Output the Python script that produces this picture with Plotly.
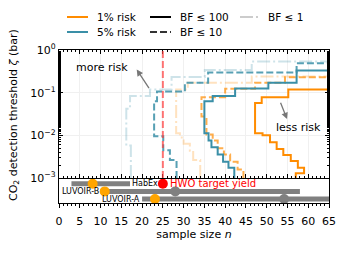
import plotly.graph_objects as go

# ---------------- data ----------------
n_1pct_bf100 = [57, 59, 57.5, 55.8, 54, 52.4, 50.8, 49, 47.2, 48.8, 55.2, 65]
z_1pct_bf100 = [0.001, 0.00129, 0.00174, 0.00251, 0.00347, 0.00479, 0.00692, 0.0100, 0.0112, 0.0575, 0.0776, 0.118]

n_5pct_bf100 = [42.2, 40.8, 39.5, 38.2, 36.7, 36.0, 35.0, 37.0, 42.4, 50.4, 57.2, 65]
z_5pct_bf100 = [0.001, 0.00174, 0.0024, 0.00355, 0.00525, 0.00759, 0.0112, 0.0631, 0.0832, 0.126, 0.170, 0.331]

n_1pct_bf10 = [44.4, 43.0, 41.2, 39.7, 38.2, 37.0, 35.5, 34.3, 40.0, 47.2, 54.4, 65]
z_1pct_bf10 = [0.001, 0.00158, 0.0024, 0.00355, 0.00501, 0.00759, 0.0105, 0.0275, 0.0776, 0.123, 0.170, 0.229]

n_5pct_bf10 = [28.3, 26.7, 25.1, 22.9, 23.6, 30.3, 35.9, 57.2, 65]
z_5pct_bf10 = [0.001, 0.00263, 0.00447, 0.00955, 0.0631, 0.107, 0.170, 0.295, 0.49]

n_1pct_bf1 = [34.0, 32.3, 31.5, 30.0, 29.1, 28.2, 31.0, 46.4, 65]
z_1pct_bf1 = [0.001, 0.00263, 0.00437, 0.00631, 0.00891, 0.0112, 0.118, 0.170, 0.24]

n_5pct_bf1 = [17.3, 16.2, 17.1, 21.9, 27.1, 35.1, 46.4, 65]
z_5pct_bf1 = [0.001, 0.00575, 0.0417, 0.0832, 0.118, 0.234, 0.339, 0.54]

missions = ["HabEx", "LUVOIR-B", "LUVOIR-A"]
yield_min = [3, 11, 20]
yield_max = [17.1, 58, 66]
yield_cons = [8.1, 11, 23.1]
yield_opt_missions = ["LUVOIR-B", "LUVOIR-A"]
yield_opt = [28, 54.2]
hwo_target = 25

x_ticks = list(range(0, 70, 5))
y_ticks = [1e-3, 1e-2, 1e-1, 1]
y_ticktext = ["10<sup>\u22123</sup>", "10<sup>\u22122</sup>", "10<sup>\u22121</sup>", "10<sup>0</sup>"]

ORANGE = "#ff8c00"
TEAL = "#3a8fa7"
FONT = "DejaVu Sans"

fig = go.Figure()

curves = [
    (n_5pct_bf1, z_5pct_bf1, "rgba(58,143,167,0.25)", "13px,3px,2px,3px"),
    (n_1pct_bf1, z_1pct_bf1, "rgba(255,140,0,0.25)", "13px,3px,2px,3px"),
    (n_5pct_bf10, z_5pct_bf10, "rgba(58,143,167,0.85)", "7px,3px"),
    (n_1pct_bf10, z_1pct_bf10, "rgba(255,140,0,0.7)", "7px,3px"),
    (n_5pct_bf100, z_5pct_bf100, TEAL, "solid"),
    (n_1pct_bf100, z_1pct_bf100, ORANGE, "solid"),
]
for nx, zy, col, dash in curves:
    fig.add_trace(go.Scatter(x=nx, y=zy, mode="lines", line=dict(color=col, width=2, dash=dash, shape="vh"),
                             xaxis="x2", yaxis="y2", showlegend=False, hoverinfo="skip"))

for m, a, b in zip(missions, yield_min, yield_max):
    fig.add_trace(go.Scatter(x=[a, b], y=[m, m], mode="lines", line=dict(color="#808080", width=5),
                             xaxis="x", yaxis="y", showlegend=False, hoverinfo="skip"))
fig.add_trace(go.Scatter(x=yield_opt, y=yield_opt_missions, mode="markers",
                         marker=dict(color="#808080", size=10), xaxis="x", yaxis="y", showlegend=False))
fig.add_trace(go.Scatter(x=yield_cons, y=missions, mode="markers",
                         marker=dict(color="#ffa500", size=10), xaxis="x", yaxis="y", showlegend=False))
fig.add_trace(go.Scatter(x=[hwo_target], y=["HabEx"], mode="markers",
                         marker=dict(color="#ff0000", size=10), xaxis="x", yaxis="y", showlegend=False))

OFF = 8
W, H = 347 - OFF, 253 - OFF
PX0, PX1, PY0, PY1 = 59.0, 329.0, 50.0, 203.0
PW, PH = PX1 - PX0, PY1 - PY0

def px(xp):
    return (xp - PX0) / PW

def py(yp):
    return (PY1 - yp) / PH

annotations = [
    dict(x=yield_max[0], y="HabEx", xref="x", yref="y", text="HabEx", showarrow=False, xanchor="left",
         font=dict(size=8, color="black", family=FONT)),
    dict(x=yield_min[1] - 0.8, y="LUVOIR-B", xref="x", yref="y", text="LUVOIR-B", showarrow=False,
         xanchor="right", font=dict(size=8, color="black", family=FONT)),
    dict(x=yield_min[2], y="LUVOIR-A", xref="x", yref="y", text="LUVOIR-A", showarrow=False, xanchor="right",
         font=dict(size=8, color="black", family=FONT)),
    dict(x=hwo_target + 1.3, y="HabEx", xref="x", yref="y", text="HWO target yield", showarrow=False,
         xanchor="left", font=dict(size=10, color="#ff0000", family=FONT)),
    dict(x=18.7, y=-0.455, ax=21.9, ay=-0.927, xref="x2", yref="y2", axref="x2", ayref="y2", text="",
         showarrow=True, arrowhead=2, arrowsize=1, arrowwidth=1.3, arrowcolor="#777777"),
    dict(x=10.3, y=-0.40, xref="x2", yref="y2", text="more risk", showarrow=False,
         font=dict(size=11, color="black", family=FONT)),
    dict(x=54.9, y=-1.62, ax=53.2, ay=-1.2, xref="x2", yref="y2", axref="x2", ayref="y2", text="",
         showarrow=True, arrowhead=2, arrowsize=1, arrowwidth=1.3, arrowcolor="#777777"),
    dict(x=57.6, y=-1.82, xref="x2", yref="y2", text="less risk", showarrow=False,
         font=dict(size=11, color="black", family=FONT)),
    dict(x=px(14), y=py(115), xref="paper", yref="paper", text="CO<sub>2</sub> detection threshold <i>\u03b6</i> (bar)",
         textangle=-90, showarrow=False, xanchor="center", yanchor="middle",
         font=dict(size=11, color="black", family=FONT)),
]

shapes = [
    dict(type="line", xref="x2", yref="y2 domain", x0=hwo_target, x1=hwo_target, y0=0, y1=1,
         line=dict(color="rgba(255,60,60,0.7)", width=2, dash="7px,3px")),
]
leg = [
    (67, 88, 17, ORANGE, "solid", "1% risk"),
    (67, 88, 32, TEAL, "solid", "5% risk"),
    (150, 171, 17, "black", "solid", "BF \u2264 100"),
    (150, 171, 32, "#333333", "7px,3px", "BF \u2264 10"),
    (240, 259, 17, "#cccccc", "13px,3px,2px,3px", "BF \u2264 1"),
]
for x0, x1, yy, col, dash, label in leg:
    shapes.append(dict(type="line", xref="paper", yref="paper", x0=px(x0), x1=px(x1), y0=py(yy), y1=py(yy),
                       line=dict(color=col, width=2, dash=dash)))
    annotations.append(dict(x=px(x1 + 7), y=py(yy), xref="paper", yref="paper", text=label, showarrow=False,
                            xanchor="left", yanchor="middle", font=dict(size=10.5, color="black", family=FONT)))

fig.update_layout(
    width=W, height=H,
    margin=dict(l=PX0 - OFF, r=W - (PX1 - OFF), t=PY0 - OFF, b=H - (PY1 - OFF), autoexpand=False),
    paper_bgcolor="white", plot_bgcolor="white",
    font=dict(family=FONT, size=11, color="black"),
    showlegend=False,
    xaxis=dict(domain=[0, 1], range=[0, 65], anchor="y", tickvals=x_ticks, ticks="outside", ticklen=3.5,
               tickwidth=1, tickcolor="black", showline=True, linecolor="black", linewidth=1.2, mirror=True,
               showgrid=False, zeroline=False, minor=dict(dtick=1, ticks="outside", ticklen=2, tickcolor="black"),
               ticklabelstandoff=4,
               title=dict(text="sample size <i>n</i>", font=dict(size=11), standoff=3), tickfont=dict(size=11)),
    yaxis=dict(domain=[0, 24 / 153], type="category", categoryarray=missions[::-1], range=[-0.52, 2.62],
               anchor="x", showticklabels=False, ticks="", showline=True, linecolor="black", linewidth=1.2,
               mirror=True, showgrid=False, zeroline=False),
    xaxis2=dict(domain=[0, 1], range=[0, 65], anchor="y2", matches="x", showticklabels=False,
                tickvals=x_ticks, ticks="inside", ticklen=3.5, tickcolor="black", showline=True, linecolor="black",
                linewidth=1.2, mirror="ticks", showgrid=True, gridcolor="#f0f0f0", gridwidth=1, zeroline=False,
                minor=dict(dtick=1, ticks="inside", ticklen=2, tickcolor="black", showgrid=False)),
    yaxis2=dict(domain=[25 / 153, 1], type="log", range=[-3, 0], anchor="x2", tickvals=y_ticks,
                ticktext=y_ticktext, ticks="inside", ticklen=3.5, tickcolor="black", showline=True,
                linecolor="black", linewidth=1.2, mirror="ticks", showgrid=True, gridcolor="#f0f0f0",
                gridwidth=1, zeroline=False,
                minor=dict(ticks="inside", ticklen=2, tickcolor="black", showgrid=False),
                tickfont=dict(size=11)),
    annotations=annotations,
    shapes=shapes,
)

fig.write_html("out.html")
